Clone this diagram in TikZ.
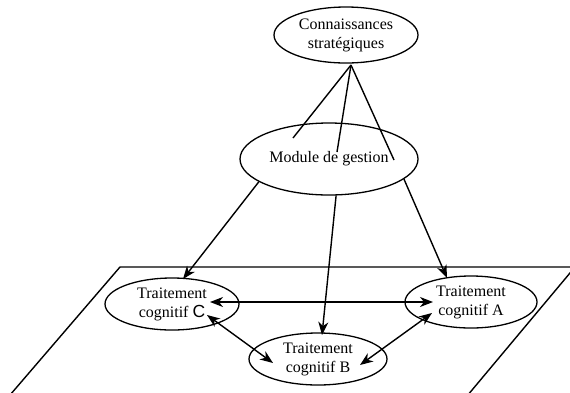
\documentclass[tikz,border=0pt]{standalone}
\usepackage{fontspec}
\setmainfont{Liberation Serif}
\newfontfamily\sansC{Liberation Sans}
\usetikzlibrary{shapes.geometric,arrows.meta}
\begin{document}
\begin{tikzpicture}[x=1pt,y=-1pt,
  oval/.style={ellipse, draw, line width=1.3pt, inner sep=0pt, fill=white},
  lbl/.style={align=center, font=\fontsize{16}{19}\selectfont, inner sep=0pt},
  link/.style={line width=1.4pt},
  tip/.style={},
  arr/.style={line width=1.4pt, -{Stealth[length=13pt,width=10pt,inset=4pt]}},
  darr/.style={line width=1.4pt, {Stealth[length=13pt,width=10pt,inset=4pt]}-{Stealth[length=13pt,width=10pt,inset=4pt]}}]
\useasboundingbox (0,0) rectangle (570,392);
% plane
\begin{scope}
  \clip (0,0) rectangle (570,392);
  \draw[line width=1.4pt] (4,402) -- (120,267) -- (575,267) -- (462,402);
\end{scope}
% ellipses
\node[oval, minimum width=144pt, minimum height=56pt] (K) at (346,35) {};
\node[lbl] (Kt) at (K.center) {Connaissances\\strat\'egiques};
\node[oval, minimum width=178pt, minimum height=72pt] (M) at (329,159) {};
\node[lbl] (Mt) at (M.center) {Module de gestion};
\node[oval, minimum width=134pt, minimum height=52pt] (C) at (172,304) {};
\node[lbl] (Ct) at (C.center) {Traitement\\cognitif {\sansC\fontsize{17.5}{19}\selectfont C}};
\node[oval, minimum width=138pt, minimum height=52pt] (B) at (318,359) {};
\node[lbl] (Bt) at (B.center) {Traitement\\cognitif B};
\node[oval, minimum width=132pt, minimum height=52pt] (A) at (471,302) {};
\node[lbl] (At) at (A.center) {Traitement\\cognitif A};
% coordinates
\coordinate (apex) at (351,65);
\coordinate (m1) at (293,138);
\coordinate (m2) at (337,152);
\coordinate (m3) at (394,160);
\coordinate (cT) at (183,279);
\coordinate (bT) at (322,335);
\coordinate (aT) at (447,278);
\coordinate (c1) at (210,302);
\coordinate (a1) at (433,302);
\coordinate (c2) at (207,315);
\coordinate (b1) at (273,363);
\coordinate (b2) at (360,365);
\coordinate (a2) at (432,313);
% links
\draw[link] (apex) -- (m1);
\draw[link] (apex) -- (m2);
\draw[link] (apex) -- (m3);
\draw[arr] (M.198) -- (cT);
\draw[arr] (M.281) -- (bT);
\draw[arr] (M.345) -- (aT);
\draw[darr] (c1) -- (a1);
\draw[darr] (c2) -- (b1);
\draw[darr] (b2) -- (a2);
\end{tikzpicture}
\end{document}
